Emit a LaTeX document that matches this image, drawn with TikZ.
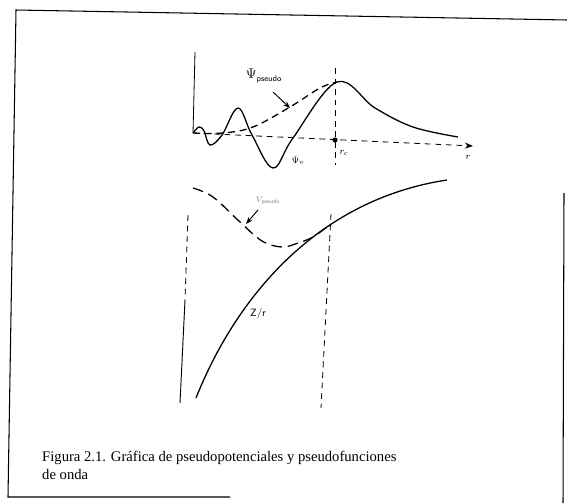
\documentclass[tikz,border=0pt]{standalone}
\usepackage{fontspec}
\setmainfont{Liberation Serif}
\usepackage{tikz}
\usetikzlibrary{arrows.meta}

\begin{document}
\begin{tikzpicture}[x=0.03cm, y=-0.03cm,
  curve/.style={line width=1.1pt},
  guide/.style={dash pattern=on 5pt off 4pt, line width=0.7pt},
  lbl/.style={font=\sffamily\footnotesize, inner sep=1pt}]
 \useasboundingbox (0,0) rectangle (567,503);
 % frame
 \draw[line width=0.9pt] (567,20) -- (16,10) -- (8,497) -- (230,497);
 \draw[line width=0.9pt] (564,193) -- (563,503);

 % upper plot: wave functions
 \coordinate (o) at (193,133);
 \coordinate (rend) at (473,146);
 \coordinate (peak) at (337,82);
 \coordinate (rc) at (335,140);
 \draw[line width=0.7pt] (195,52) -- (o);
 \draw[guide, -{Stealth[length=7pt]}] (o) -- (rend);
 \draw[curve] plot[smooth, tension=0.6] coordinates {(o) (199,127) (204,131) (210,145) (222,135) (238,108) (252,135) (273,168) (293,138) (peak) (375,108) (413,127) (458,137)};
 \draw[curve, dashed, dash pattern=on 6pt off 4pt] plot[smooth, tension=0.6] coordinates {(o) (223,133) (253,127) (290,107) (320,88) (peak)};
 \draw[guide] (335,68) -- (335,165);
 \fill (rc) circle (2.2pt);
 \node[font=\large, inner sep=1pt] (psilbl) at (264,76) {$\Psi_{\mbox{\sffamily\scriptsize pseudo}}$};
 \coordinate (psitip) at (290,108);
 \draw[line width=0.8pt, -{Stealth[length=6pt]}] (273,92) -- (psitip);
 \node[lbl] (psivlbl) at (298,161) {$\Psi_v$};
 \node[lbl] (rclbl) at (344,153) {$r_c$};
 \node[lbl] (rlbl) at (468,157) {$r$};

 % lower plot: potentials
 \coordinate (join) at (313,237);
 \draw[curve] (196,398) .. controls (235,300) and (315,200) .. (447,180);
 \draw[curve, dashed, dash pattern=on 9pt off 5pt] plot[smooth, tension=0.6] coordinates {(193,188) (213,197) (240,222) (262,241) (282,247) (298,243) (join) (328,226)};
 \draw[guide] (188,215) -- (185,300);
 \draw[line width=0.8pt] (185,300) -- (180,403);
 \draw[guide] (331,214) -- (321,408);
 \node[lbl, gray, font=\sffamily\scriptsize] (vpslbl) at (268,201) {$V_{\mbox{\sffamily\tiny pseudo}}$};
 \coordinate (vtip) at (246,224);
 \draw[line width=0.8pt, -{Stealth[length=6pt]}] (258,210) -- (vtip);
 \node[lbl, font=\sffamily\small] (zrlbl) at (258,314) {Z/r};

 % caption
 \node[anchor=north west, align=left, inner sep=0pt, font=\fontsize{12.5}{15.5}\selectfont] (caption) at (42,451)
   {Figura 2.1. Gráfica de pseudopotenciales y pseudofunciones\\de onda};
\end{tikzpicture}
\end{document}
